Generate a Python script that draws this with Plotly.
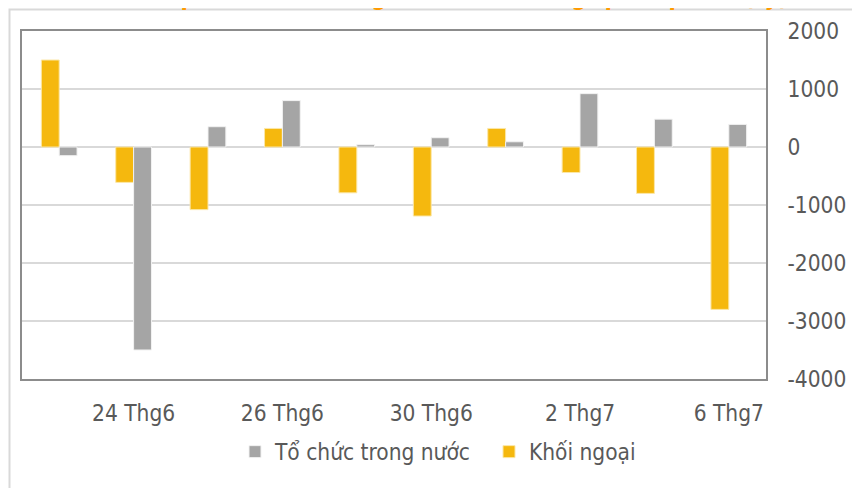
import plotly.graph_objects as go

categories = ["23 Thg6", "24 Thg6", "25 Thg6", "26 Thg6", "29 Thg6",
              "30 Thg6", "1 Thg7", "2 Thg7", "3 Thg7", "6 Thg7"]
tick_labels = ["24 Thg6", "26 Thg6", "30 Thg6", "2 Thg7", "6 Thg7"]
khoi_ngoai = [1500, -610, -1080, 320, -790, -1190, 320, -440, -800, -2800]
to_chuc_trong_nuoc = [-150, -3500, 350, 800, 40, 160, 90, 920, 480, 390]
y_ticks = [2000, 1000, 0, -1000, -2000, -3000, -4000]

title_text = "Giao dịch tổ chức trong nước và khối ngoại 10 phiên (tỷ)"

FONT = "DejaVu Sans Condensed, Liberation Sans Narrow, DejaVu Sans, sans-serif"
TXT = "#595959"
FS = 22.5

fig = go.Figure()
fig.add_trace(go.Bar(
    x=categories, y=khoi_ngoai, name="Khối ngoại",
    marker=dict(color="#F5B80E", line=dict(color="#FBE7A8", width=1)),
    legendrank=2,
))
fig.add_trace(go.Bar(
    x=categories, y=to_chuc_trong_nuoc, name="Tổ chức trong nước",
    marker=dict(color="#A5A5A5", line=dict(color="#F2F2F2", width=1)),
    legendrank=1,
))

# The page body has an 8px margin, so figure coords = screen coords - 8.
OFF = 8
W, H = 860 - OFF, 488 - OFF
L, R, T, B = 22 - OFF, 766 - OFF, 31 - OFF, 379 - OFF
def px_x(p):  # screen px -> paper
    return (p - OFF - L) / (R - L)
def px_y(p):
    return (B - (p - OFF)) / (B - T)

fig.update_layout(
    width=W, height=H,
    margin=dict(l=L, r=W - R, t=T, b=H - B, autoexpand=False),
    paper_bgcolor="white", plot_bgcolor="white",
    barmode="group", bargap=0.52, bargroupgap=0,
    font=dict(family=FONT, size=FS, color=TXT),
    showlegend=True,
    legend=dict(orientation="h", x=px_x(235), xanchor="left",
                y=px_y(452), yanchor="middle",
                font=dict(family=FONT, size=FS, color=TXT),
                itemwidth=30, entrywidth=209, bgcolor="rgba(0,0,0,0)"),
    xaxis=dict(
        type="category", categoryorder="array", categoryarray=categories,
        tickmode="array", tickvals=tick_labels, ticktext=tick_labels,
        showgrid=False, ticks="", ticklabelstandoff=13, automargin=False,
        showline=True, mirror=True, linecolor="#8C8C8C", linewidth=2,
        tickfont=dict(family=FONT, size=FS, color=TXT),
    ),
    yaxis=dict(
        side="right", range=[-4000, 2000], automargin=False,
        tickmode="array", tickvals=y_ticks, ticktext=[str(v) for v in y_ticks],
        showgrid=True, gridcolor="#D9D9D9", gridwidth=1.5,
        zeroline=True, zerolinecolor="#D9D9D9", zerolinewidth=1.5,
        showline=True, mirror=True, linecolor="#8C8C8C", linewidth=2,
        ticks="", ticklabelstandoff=15,
        tickfont=dict(family=FONT, size=FS, color=TXT),
    ),
    shapes=[dict(type="rect", xref="paper", yref="paper",
                 x0=px_x(9.5), x1=px_x(880), y0=px_y(520), y1=px_y(9.5),
                 line=dict(color="#D9D9D9", width=2), layer="below")],
    annotations=[dict(text="<b>" + title_text + "</b>", xref="paper", yref="paper",
                      x=px_x(445), xanchor="center", y=px_y(13), yanchor="bottom",
                      showarrow=False,
                      font=dict(family="DejaVu Sans Condensed, DejaVu Sans, sans-serif",
                                size=24, color="#FF9A00"))],
)

fig.write_html("out.html")
